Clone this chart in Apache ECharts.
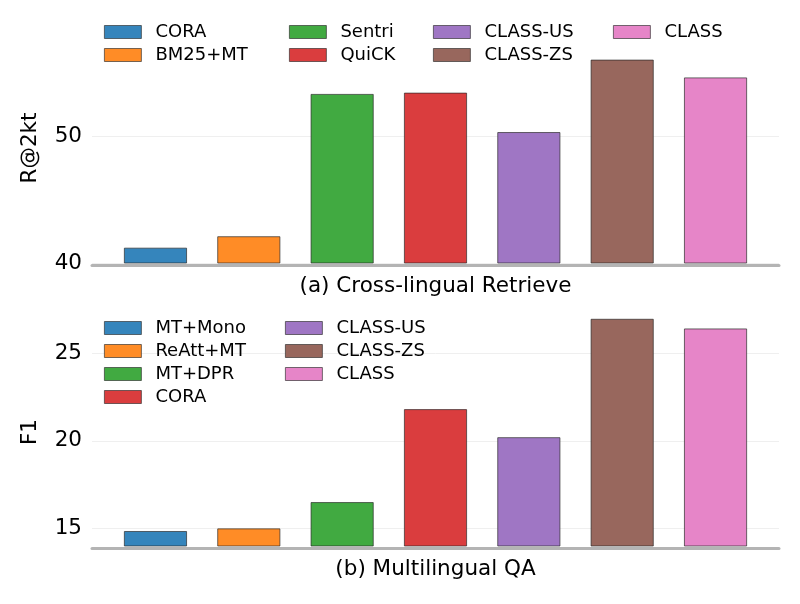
<!DOCTYPE html>
<html>
<head>
<meta charset="utf-8">
<script src="https://cdn.jsdelivr.net/npm/echarts@6/dist/echarts.min.js"></script>
<style>html,body{margin:0;padding:0;background:#fff}#c{width:800px;height:604px}</style>
</head>
<body>
<div id="c"></div>
<script>
// Panel (a) Cross-lingual Retrieve
var retrieveMethods = ['CORA', 'BM25+MT', 'Sentri', 'QuiCK', 'CLASS-US', 'CLASS-ZS', 'CLASS'];
var retrieveValues = [41.2, 42.1, 53.3, 53.4, 50.3, 56.0, 54.6];
var retrieveTicks = [40, 50];
// Panel (b) Multilingual QA
var qaMethods = ['MT+Mono', 'ReAtt+MT', 'MT+DPR', 'CORA', 'CLASS-US', 'CLASS-ZS', 'CLASS'];
var qaValues = [14.85, 15.0, 16.5, 21.8, 20.2, 26.95, 26.4];
var qaTicks = [15, 20, 25];

var colors = ['#3585bc', '#ff8c26', '#41aa41', '#da3d3e', '#9f76c4', '#98675d', '#e685c8'];
var FONT = 'DejaVu Sans';
var AXFS = 21.5;

// bottom-panel series get a trailing space so names stay unique per panel
function key(name, panel) { return panel === 0 ? name : name + ' '; }

var series = [];
function addSeries(names, values, panel) {
  names.forEach(function (n, i) {
    series.push({
      type: 'bar',
      name: key(n, panel),
      xAxisIndex: panel,
      yAxisIndex: panel,
      barWidth: 63,
      barGap: '-100%',
      itemStyle: { color: colors[i], borderColor: 'rgba(40,40,40,0.85)', borderWidth: 0.8 },
      emphasis: { disabled: true },
      data: [[i, values[i]]]
    });
  });
}
addSeries(retrieveMethods, retrieveValues, 0);
addSeries(qaMethods, qaValues, 1);

function legend(names, panel, left, top) {
  return {
    orient: 'vertical', left: left, top: top,
    data: names.map(function (n) { return { name: key(n, panel), icon: 'rect' }; }),
    formatter: function (n) { return n.trim(); },
    itemWidth: 37, itemHeight: 13, itemGap: 5,
    padding: 0,
    selectedMode: false,
    itemStyle: { borderColor: 'rgba(40,40,40,0.8)', borderWidth: 0.8 },
    textStyle: { fontFamily: FONT, fontSize: 18, color: '#000', padding: [0, 0, 0, 9] }
  };
}

function xAxis(gridIndex, name) {
  return {
    type: 'value', gridIndex: gridIndex, min: -0.68, max: 6.68,
    offset: 2,
    name: name, nameLocation: 'middle', nameGap: 10,
    nameTextStyle: { fontFamily: FONT, fontSize: AXFS, color: '#000' },
    axisLine: { show: true, lineStyle: { color: '#b4b4b4', width: 3 } },
    axisTick: { show: false }, axisLabel: { show: false }, splitLine: { show: false }
  };
}
function yAxis(gridIndex, name, min, max, ticks) {
  return {
    type: 'value', gridIndex: gridIndex, min: min, max: max,
    name: name, nameLocation: 'middle', nameGap: 51,
    nameTextStyle: { fontFamily: FONT, fontSize: AXFS, color: '#000' },
    axisLine: { show: false },
    axisTick: { show: false, customValues: ticks },
    axisLabel: { customValues: ticks, fontFamily: FONT, fontSize: AXFS, color: '#000', margin: 10 },
    splitLine: { show: true, lineStyle: { color: '#efefef', width: 1 } }
  };
}

var chart = echarts.init(document.getElementById('c'), null, { renderer: 'canvas' });
chart.setOption({
  animation: false,
  backgroundColor: '#fff',
  grid: [
    { left: 92, right: 21, top: 33, height: 230 },
    { left: 92, right: 21, top: 318, height: 228 }
  ],
  legend: [
    legend(['CORA', 'BM25+MT'], 0, 104, 23),
    legend(['Sentri', 'QuiCK'], 0, 289, 23),
    legend(['CLASS-US', 'CLASS-ZS'], 0, 433, 23),
    legend(['CLASS'], 0, 613, 23),
    legend(['MT+Mono', 'ReAtt+MT', 'MT+DPR', 'CORA'], 1, 104, 319),
    legend(['CLASS-US', 'CLASS-ZS', 'CLASS'], 1, 285, 319)
  ],
  xAxis: [xAxis(0, '(a) Cross-lingual Retrieve'), xAxis(1, '(b) Multilingual QA')],
  yAxis: [yAxis(0, 'R@2kt', 40, 58.1, retrieveTicks), yAxis(1, 'F1', 14, 27.0, qaTicks)],
  series: series
});
</script>
</body>
</html>
